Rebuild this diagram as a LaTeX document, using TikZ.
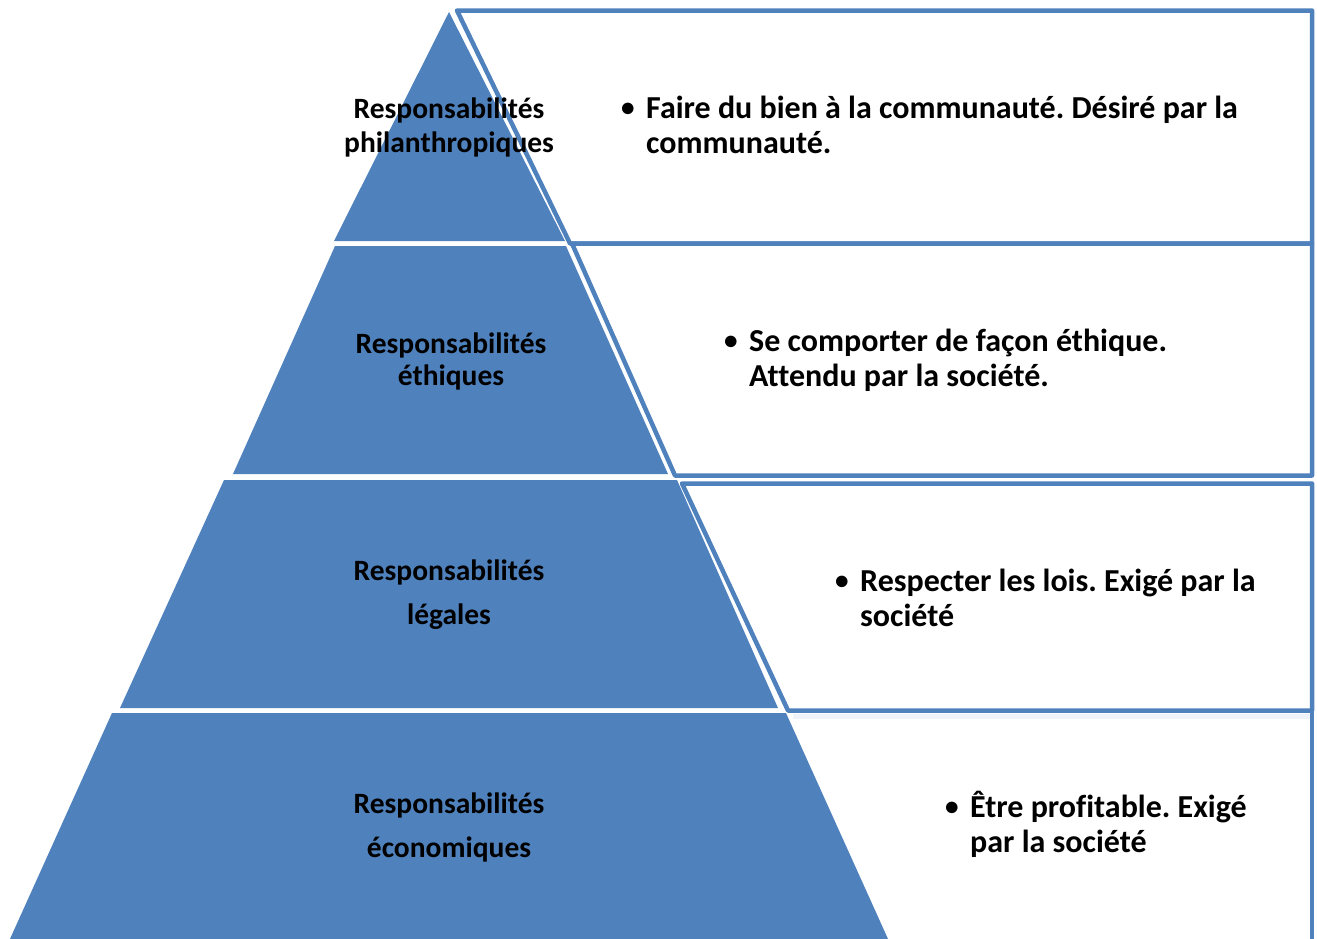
\documentclass[tikz,border=0pt]{standalone}
\usepackage{fontspec}
\setmainfont{Carlito}[Ligatures=NoCommon]
\usetikzlibrary{positioning}

\definecolor{pyrblue}{HTML}{4F81BD}
\definecolor{palerule}{HTML}{EEF2F9}

\newcommand{\levellines}[3][0pt]{\begin{tabular}[t]{@{}c@{}}#2\\[#1]#3\end{tabular}}
\newcommand{\dutylines}[2]{\begin{tabular}[t]{@{}l@{}l@{}}\makebox[25pt][l]{\raisebox{1.5pt}{\scalebox{0.85}{\textbullet}}}&#1\\&#2\end{tabular}}

\tikzset{
  layer/.style={fill=pyrblue},
  framebox/.style={draw=pyrblue, line width=4.5pt, line join=round, fill=white},
  level/.style={font=\frenchspacing\bfseries\fontsize{29.5}{34}\selectfont, inner sep=0pt, anchor=base},
  duty/.style={font=\frenchspacing\bfseries\fontsize{32}{35}\selectfont, inner sep=0pt, anchor=base west},
}

\begin{document}
\begin{tikzpicture}[x=1pt,y=-1pt]
\path[use as bounding box] (0,0) rectangle (1317,938);

% frames on the right
\draw[framebox] (457,10.5) -- (1312,10.5) -- (1312,243.5) -- (570,243.5) -- cycle;
\draw[framebox] (572,243.5) -- (1312,243.5) -- (1312,475.5) -- (675,475.5) -- cycle;
\draw[framebox] (682,483.5) -- (1312,483.5) -- (1312,710.5) -- (788,710.5) -- cycle;
\draw[palerule, line width=4.5pt] (793,716.5) -- (1310,716.5);
\draw[pyrblue, line width=4.5pt] (1312,708) -- (1312,945);

% the pyramid
\fill[layer] (449,12) -- (565,241) -- (334,241) -- cycle;
\fill[layer] (335,246) -- (566,246) -- (668,474) -- (233,474) -- cycle;
\fill[layer] (224,480) -- (677,480) -- (778,708) -- (120,708) -- cycle;
\fill[layer] (112,713) -- (786,713) -- (893,950) -- (5,950) -- cycle;

\node[level] (philo) at (449,118) {\levellines{Responsabilités}{philanthropiques}};
\node[level] (ethic) at (451,353) {\levellines[-2pt]{Responsabilités}{éthiques}};
\node[level] (legal) at (449,580) {\levellines[10pt]{Responsabilités}{légales}};
\node[level] (econ)  at (449,813) {\levellines[10pt]{Responsabilités}{économiques}};

\node[duty] (philotxt) at (621,118) {\dutylines{Faire du bien à la communauté. Désiré par la}{communauté.}};
\node[duty] (ethictxt) at (724,351) {\dutylines{Se comporter de façon éthique.}{Attendu par la société.}};
\node[duty] (legaltxt) at (835,591) {\dutylines{Respecter les lois. Exigé par la}{société}};
\node[duty] (econtxt)  at (945,817) {\dutylines{Être profitable. Exigé}{par la société}};

\end{tikzpicture}
\end{document}
